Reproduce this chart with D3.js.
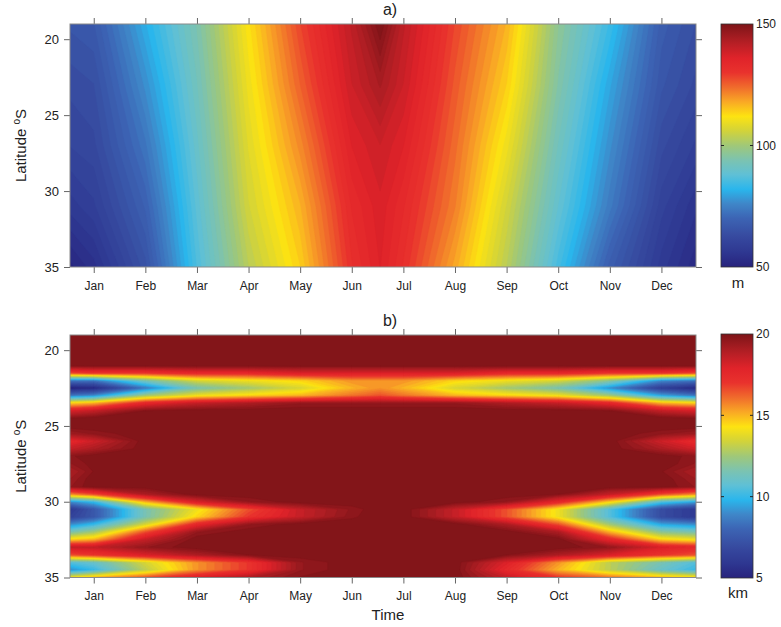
<!DOCTYPE html>
<html>
<head>
<meta charset="utf-8">
<script src="https://cdn.jsdelivr.net/npm/d3@7"></script>
<style>
body { margin: 0; background: #fff; }
text { font-family: "Liberation Sans", Arial, sans-serif; fill: #222; }
.tick line { stroke: #666; }
</style>
</head>
<body>
<div id="chart"></div>
<script>
const W = 781, H = 627;

const months = ["Jan", "Feb", "Mar", "Apr", "May", "Jun", "Jul", "Aug", "Sep", "Oct", "Nov", "Dec"];
// time positions of grid columns, in months (0 = Jan)
const gridTimes = [-0.46, 0, 1, 2, 3, 4, 5, 5.55, 6, 7, 8, 9, 10, 11, 11.67];
const latTicks = [20, 25, 30, 35];

// panel a: mixed layer depth (m)
const latsA = [19, 23, 27, 31, 35];
const depthA = [
    [66, 67, 81, 94, 112, 128, 141, 150, 141, 128, 117, 97, 84, 68, 64],
    [63, 64, 77, 92, 110, 125, 139, 144, 139, 126, 114, 95, 80, 66, 62],
    [61, 62, 73, 90, 108, 121, 136, 139, 136, 124, 110, 92, 77, 63, 59],
    [57, 59, 69, 88, 106, 117, 133, 137, 133, 122, 106, 89, 74, 60, 55],
    [51, 54, 65, 86, 103, 114, 131, 136, 131, 118, 103, 85, 68, 57, 52]
];

// panel b: length scale (km)
const latsB = [19, 21, 21.5, 22, 22.5, 23, 23.5, 24, 24.5, 25, 25.5, 26, 26.5, 27, 27.5,
    28, 28.5, 29, 29.5, 30, 30.5, 31, 31.5, 32, 32.5, 33, 33.5, 34, 34.5, 35];
const scaleB = [
    [20, 20, 20, 20, 20, 20, 20, 20, 20, 20, 20, 20, 20, 20, 20],
    [20, 20, 20, 20, 20, 20, 20, 20, 20, 20, 20, 20, 20, 20, 20],
    [16.5, 17, 17, 17.5, 17.5, 18, 18, 18, 18, 18, 17.5, 17.5, 17, 17, 16.5],
    [8.5, 8.5, 11.5, 13.5, 14, 14.5, 15.5, 15.5, 15.5, 14.5, 14, 13.5, 12, 9, 8.5],
    [5, 5.3, 8.5, 11.5, 12.5, 13.5, 15, 15.5, 15, 13.5, 12.5, 11.5, 9, 6.3, 5.3],
    [8.5, 9, 12.5, 14, 14.5, 15, 16, 16.5, 16, 15, 14.5, 14, 12.5, 9.5, 8.5],
    [14.5, 15, 17.5, 18.5, 19, 19.5, 19.5, 19.5, 19.5, 19.5, 19, 18.5, 17.5, 15, 14.5],
    [18, 18.5, 19.8, 20, 20, 20, 20, 20, 20, 20, 20, 20, 19.8, 18.5, 18],
    [19.8, 20, 20, 20, 20, 20, 20, 20, 20, 20, 20, 20, 20, 20, 19.8],
    [20, 20, 20, 20, 20, 20, 20, 20, 20, 20, 20, 20, 20, 20, 20],
    [19.3, 19.6, 20, 20, 20, 20, 20, 20, 20, 20, 20, 20, 20, 19.6, 19.3],
    [17.5, 18.3, 20, 20, 20, 20, 20, 20, 20, 20, 20, 20, 20, 18.3, 17.3],
    [18.5, 19, 20, 20, 20, 20, 20, 20, 20, 20, 20, 20, 20, 19, 18.2],
    [19.7, 20, 20, 20, 20, 20, 20, 20, 20, 20, 20, 20, 20, 20, 19.6],
    [19.5, 19.9, 20, 20, 20, 20, 20, 20, 20, 20, 20, 20, 20, 20, 19.5],
    [19, 19.8, 20, 20, 20, 20, 20, 20, 20, 20, 20, 20, 20, 19.8, 19],
    [19.3, 20, 20, 20, 20, 20, 20, 20, 20, 20, 20, 20, 20, 20, 19.3],
    [19.5, 20, 20, 20, 20, 20, 20, 20, 20, 20, 20, 20, 20, 20, 19.5],
    [15.5, 16.5, 19, 20, 20, 20, 20, 20, 20, 20, 20, 19.8, 18.5, 16.5, 15.5],
    [9, 10, 15, 18, 19.5, 20, 20, 20, 20, 20, 19.5, 17.5, 14.5, 10.5, 9.5],
    [6, 7.5, 11.5, 14, 16.5, 18.5, 19.6, 20, 20, 18.5, 16.5, 14, 10.5, 7, 6],
    [6.5, 7.5, 11.5, 14.5, 17, 18.5, 19.7, 20, 20, 18.5, 16.5, 14, 10.5, 7, 6],
    [9, 10, 13.5, 17.5, 19.5, 20, 20, 20, 20, 20, 19, 16.5, 12.5, 9.5, 9],
    [11.5, 12.5, 16.5, 19.5, 20, 20, 20, 20, 20, 20, 20, 19, 15, 12, 11.5],
    [14.5, 15, 18.5, 20, 20, 20, 20, 20, 20, 20, 20, 20, 17.5, 14.5, 14],
    [18.5, 18.5, 19.5, 20, 20, 20, 20, 20, 20, 20, 20, 20, 19.5, 18, 17.5],
    [16.5, 17, 18, 19, 19.8, 20, 20, 20, 20, 20, 19.8, 19, 18, 17, 16.5],
    [10.5, 11, 13.5, 15.5, 17, 19.5, 20, 20, 20, 20, 18, 15.5, 13, 11.5, 10.5],
    [9, 10, 13, 15.5, 17, 19.5, 20, 20, 20, 20, 17.5, 15, 13, 11, 10],
    [14, 15, 16.5, 18, 19, 19.8, 20, 20, 20, 20, 18.5, 17, 16, 15, 14.5]
];

// colour map (jet-like), positions 0..1
const cmapPos = [0, 0.06, 0.13, 0.2, 0.26, 0.32, 0.38, 0.44, 0.5, 0.56, 0.62, 0.68, 0.74, 0.8, 0.86, 0.93, 1];
const cmapColors = ["#28237d", "#2e3791", "#374ba0", "#3c64b4", "#3f86c8", "#2ab6ec", "#5fc0d6", "#7cc3b0",
    "#a0c878", "#d2d33a", "#fde311", "#f9a825", "#f06b2c", "#e9322d", "#e0232a", "#b01e24", "#7d1418"];
const cmap = d3.scaleLinear().domain(cmapPos).range(cmapColors).interpolate(d3.interpolateRgb).clamp(true);

const panels = [
    { id: "a", title: "a)", titleY: 15, top: 24, bottom: 267, lats: latsA, values: depthA,
      range: [50, 150], cbTicks: [50, 100, 150], unit: "m", cbTop: 24, cbBottom: 267, unitY: 288, timeLabel: false },
    { id: "b", title: "b)", titleY: 326, top: 335, bottom: 577.5, lats: latsB, values: scaleB,
      range: [5, 20], cbTicks: [5, 10, 15, 20], unit: "km", cbTop: 334, cbBottom: 578, unitY: 598, timeLabel: true }
];

const plotLeft = 70, plotRight = 696;
const cbLeft = 721, cbWidth = 32;

const svg = d3.select("#chart").append("svg")
    .attr("width", W)
    .attr("height", H);

const defs = svg.append("defs");

const x = d3.scaleLinear().domain([gridTimes[0], gridTimes[gridTimes.length - 1]]).range([plotLeft, plotRight]);

panels.forEach(p => {
    const y = d3.scaleLinear().domain([19, 35]).range([p.top, p.bottom]);
    const n = gridTimes.length, m = p.lats.length;
    const flat = p.values.flat();

    // grid coords -> data coords
    const colToTime = d3.scaleLinear().domain(gridTimes.map((d, i) => i + 0.5)).range(gridTimes).clamp(true);
    const rowToLat = d3.scaleLinear().domain(p.lats.map((d, j) => j + 0.5)).range(p.lats).clamp(true);

    const path = d3.geoPath(d3.geoTransform({
        point: function(cx, cy) {
            this.stream.point(x(colToTime(cx)), y(rowToLat(cy)));
        }
    }));

    const [lo, hi] = p.range;
    const nLevels = 64;
    const step = (hi - lo) / nLevels;
    const levels = d3.range(nLevels).map(k => lo + k * step);
    const color = v => cmap((v - lo) / (hi - lo));

    const contours = d3.contours().size([n, m]).thresholds(levels)(flat);

    defs.append("clipPath").attr("id", "clip-" + p.id)
        .append("rect")
        .attr("x", plotLeft).attr("y", p.top)
        .attr("width", plotRight - plotLeft).attr("height", p.bottom - p.top);

    const g = svg.append("g").attr("clip-path", `url(#clip-${p.id})`);
    g.append("rect")
        .attr("x", plotLeft).attr("y", p.top)
        .attr("width", plotRight - plotLeft).attr("height", p.bottom - p.top)
        .attr("fill", color(lo));
    g.selectAll("path")
        .data(contours)
        .enter().append("path")
        .attr("d", path)
        .attr("fill", d => color(d.value + step / 2))
        .attr("stroke", d => color(d.value + step / 2))
        .attr("stroke-width", 0.4);

    // axes
    const monthIdx = d3.range(12);
    svg.append("g")
        .attr("transform", `translate(0,${p.bottom})`)
        .call(d3.axisBottom(x).tickValues(monthIdx).tickFormat(i => months[i]).tickSize(6).tickPadding(8))
        .call(a => a.select(".domain").remove())
        .selectAll("text").attr("font-size", 12);
    svg.append("g")
        .attr("transform", `translate(0,${p.top})`)
        .call(d3.axisTop(x).tickValues(monthIdx).tickFormat("").tickSize(6))
        .call(a => a.select(".domain").remove());
    svg.append("g")
        .attr("transform", `translate(${plotLeft},0)`)
        .call(d3.axisLeft(y).tickValues(latTicks).tickSize(6).tickPadding(5))
        .call(a => a.select(".domain").remove())
        .selectAll("text").attr("font-size", 13);
    svg.append("g")
        .attr("transform", `translate(${plotRight},0)`)
        .call(d3.axisRight(y).tickValues(latTicks).tickFormat("").tickSize(6))
        .call(a => a.select(".domain").remove());

    svg.append("rect")
        .attr("x", plotLeft).attr("y", p.top)
        .attr("width", plotRight - plotLeft).attr("height", p.bottom - p.top)
        .attr("fill", "none").attr("stroke", "#8a8a8a").attr("stroke-width", 1);

    // y label
    const yl = svg.append("text")
        .attr("transform", `translate(26,${(p.top + p.bottom) / 2}) rotate(-90)`)
        .attr("text-anchor", "middle")
        .attr("font-size", 15);
    yl.append("tspan").text("Latitude ");
    yl.append("tspan").attr("font-size", 10).attr("dy", -6).text("o");
    yl.append("tspan").attr("dy", 6).text("S");

    svg.append("text")
        .attr("x", 390).attr("y", p.titleY)
        .attr("text-anchor", "middle")
        .attr("font-size", 16)
        .text(p.title);

    if (p.timeLabel) {
        svg.append("text")
            .attr("x", 388).attr("y", 620)
            .attr("text-anchor", "middle")
            .attr("font-size", 15)
            .text("Time");
    }

    // colour bar
    const grad = defs.append("linearGradient")
        .attr("id", "grad-" + p.id)
        .attr("x1", 0).attr("y1", 1).attr("x2", 0).attr("y2", 0);
    d3.range(0, 1.0001, 0.02).forEach(t => {
        grad.append("stop").attr("offset", t).attr("stop-color", cmap(t));
    });
    const cy = d3.scaleLinear().domain(p.range).range([p.cbBottom, p.cbTop]);
    svg.append("rect")
        .attr("x", cbLeft).attr("y", p.cbTop)
        .attr("width", cbWidth).attr("height", p.cbBottom - p.cbTop)
        .attr("fill", `url(#grad-${p.id})`)
        .attr("stroke", "#333").attr("stroke-width", 0.8);
    const inner = p.cbTicks.filter(v => v > lo && v < hi);
    svg.selectAll(null).data(inner).enter().append("line")
        .attr("x1", cbLeft).attr("x2", cbLeft + 3)
        .attr("y1", d => cy(d)).attr("y2", d => cy(d))
        .attr("stroke", "#222");
    svg.selectAll(null).data(inner).enter().append("line")
        .attr("x1", cbLeft + cbWidth - 3).attr("x2", cbLeft + cbWidth)
        .attr("y1", d => cy(d)).attr("y2", d => cy(d))
        .attr("stroke", "#222");
    svg.selectAll(null).data(p.cbTicks).enter().append("text")
        .attr("x", cbLeft + cbWidth + 3)
        .attr("y", d => cy(d))
        .attr("dy", "0.35em")
        .attr("font-size", 12)
        .text(d => d);
    svg.append("text")
        .attr("x", cbLeft + cbWidth / 2 + 1).attr("y", p.unitY)
        .attr("text-anchor", "middle")
        .attr("font-size", 15)
        .text(p.unit);
});
</script>
</body>
</html>
